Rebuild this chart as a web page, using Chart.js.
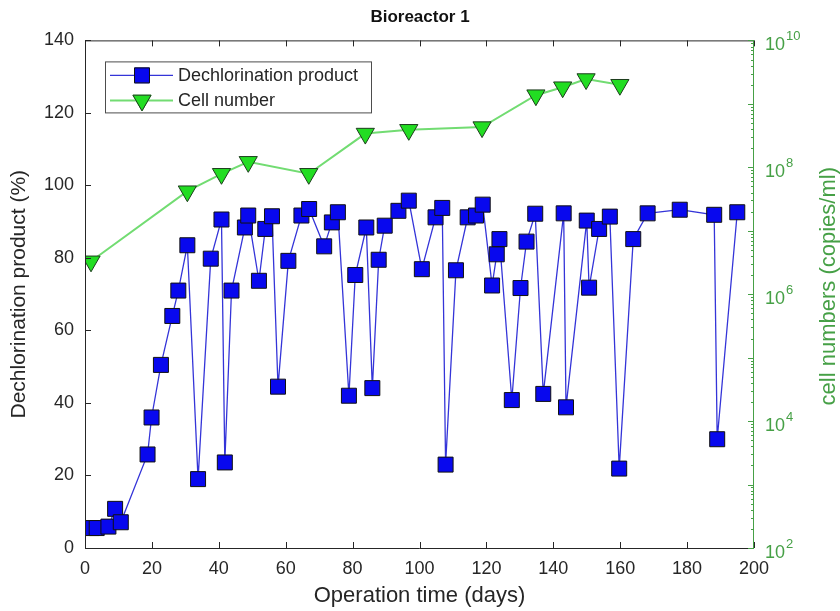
<!DOCTYPE html>
<html>
<head>
<meta charset="utf-8">
<script src="https://cdn.jsdelivr.net/npm/chart.js@4/dist/chart.umd.min.js"></script>
<style>
  html, body { margin: 0; padding: 0; background: #fff; }
  #wrap { width: 840px; height: 611px; }
</style>
</head>
<body>
<div id="wrap"><canvas id="chart"></canvas></div>
<script>
// dechlorination product (%) vs operation time (days)
const dechlorDays = [2.0, 3.5, 7.0, 9.0, 10.7, 18.7, 19.9, 22.7, 26.1, 27.9, 30.6, 33.8, 37.6, 40.8, 41.8, 43.8,
  47.8, 48.8, 52.0, 53.9, 55.9, 57.7, 60.8, 64.7, 67.0, 71.5, 73.8, 75.6, 78.9, 80.8, 84.1, 85.9, 87.8, 89.6,
  93.7, 96.8, 100.7, 104.8, 106.8, 107.8, 110.9, 114.4, 116.9, 118.9, 121.7, 123.1, 123.9, 127.6, 130.2, 132.0,
  134.6, 137.0, 143.1, 143.8, 150.0, 150.7, 153.7, 156.9, 159.7, 163.9, 168.2, 177.8, 188.1, 189.0, 195.0];
const dechlorPct = [5.5, 5.5, 5.9, 10.8, 7.1, 25.8, 36, 50.5, 64, 71, 83.5, 19, 79.8, 90.6, 23.6, 71,
  88.4, 91.7, 73.7, 88, 91.5, 44.5, 79.2, 91.7, 93.5, 83.2, 89.8, 92.6, 42, 75.3, 88.4, 44.1, 79.5, 88.9,
  93, 95.8, 76.9, 91.2, 93.8, 23, 76.6, 91.2, 91.7, 94.7, 72.4, 81, 85.2, 40.8, 71.7, 84.5,
  92.2, 42.5, 92.3, 38.8, 90.3, 71.8, 88, 91.4, 21.9, 85.2, 92.3, 93.3, 91.9, 30, 92.6];

// cell numbers (copies/ml)
const cellDays = [1.8, 30.6, 40.8, 48.8, 66.9, 83.8, 96.8, 118.7, 134.8, 142.8, 149.8, 159.9];
const cellCounts = [3.3e6, 4.2e7, 7.9e7, 1.22e8, 7.9e7, 3.4e8, 3.9e8, 4.3e8, 1.37e9, 1.83e9, 2.46e9, 2.0e9];

const cellTickPowers = [2, 4, 6, 8, 10];
const seriesNames = ['Dechlorination product', 'Cell number'];

const FONT = 'Liberation Sans, Arial, Helvetica, sans-serif';
const AXIS = '#262626';
const GREEN = '#46a046';

const matlabAxes = {
  id: 'matlabAxes',
  afterDraw(chart) {
    const { ctx, chartArea: a, scales } = chart;
    ctx.save();
    ctx.lineWidth = 1;

    // box (left, top, bottom dark; right green)
    ctx.strokeStyle = AXIS;
    ctx.beginPath();
    ctx.moveTo(a.right, a.top + 0.5);
    ctx.lineTo(a.left + 0.5, a.top + 0.5);
    ctx.lineTo(a.left + 0.5, a.bottom + 0.5);
    ctx.lineTo(a.right, a.bottom + 0.5);
    ctx.stroke();

    // inward ticks
    ctx.beginPath();
    scales.x.ticks.forEach(t => {
      const px = Math.round(scales.x.getPixelForValue(t.value)) + 0.5;
      ctx.moveTo(px, a.bottom); ctx.lineTo(px, a.bottom - 6);
      ctx.moveTo(px, a.top); ctx.lineTo(px, a.top + 6);
    });
    scales.y.ticks.forEach(t => {
      const py = Math.round(scales.y.getPixelForValue(t.value)) + 0.5;
      ctx.moveTo(a.left, py); ctx.lineTo(a.left + 6, py);
    });
    ctx.stroke();

    // right log axis
    const y2 = scales.y2;
    ctx.strokeStyle = GREEN;
    ctx.beginPath();
    ctx.moveTo(a.right - 0.5, a.top);
    ctx.lineTo(a.right - 0.5, a.bottom + 1);
    for (let p = 2; p <= 10; p++) {
      const py = Math.round(y2.getPixelForValue(Math.pow(10, p))) + 0.5;
      ctx.moveTo(a.right, py); ctx.lineTo(a.right - 6, py);
      if (p < 10) {
        for (let k = 2; k <= 9; k++) {
          const my = Math.round(y2.getPixelForValue(k * Math.pow(10, p))) + 0.5;
          ctx.moveTo(a.right, my); ctx.lineTo(a.right - 3, my);
        }
      }
    }
    ctx.stroke();

    // right tick labels 10^n
    ctx.fillStyle = GREEN;
    ctx.textAlign = 'left';
    ctx.textBaseline = 'middle';
    cellTickPowers.forEach(p => {
      const py = y2.getPixelForValue(Math.pow(10, p));
      ctx.font = '18px ' + FONT;
      const x0 = a.right + 11;
      ctx.fillText('10', x0, py + 5);
      const w = ctx.measureText('10').width;
      ctx.font = '13px ' + FONT;
      ctx.fillText(String(p), x0 + w + 1, py - 4);
    });

    // right axis title
    ctx.save();
    ctx.font = '22px ' + FONT;
    ctx.textAlign = 'center';
    ctx.translate(829, (a.top + a.bottom) / 2 - 8);
    ctx.rotate(-Math.PI / 2);
    ctx.fillText('cell numbers (copies/ml)', 0, 0);
    ctx.restore();

    // legend
    const lx = a.left + 20, ly = a.top + 21, lw = 266, lh = 51;
    ctx.fillStyle = '#fff';
    ctx.fillRect(lx, ly, lw, lh);
    ctx.strokeStyle = '#4d4d4d';
    ctx.strokeRect(lx + 0.5, ly + 0.5, lw, lh);
    const rows = [
      { y: ly + 14, ds: chart.data.datasets[0] },
      { y: ly + 39, ds: chart.data.datasets[1] }
    ];
    rows.forEach(r => {
      ctx.strokeStyle = r.ds.borderColor;
      ctx.lineWidth = r.ds.borderWidth;
      ctx.beginPath();
      ctx.moveTo(lx + 5, r.y); ctx.lineTo(lx + 68, r.y);
      ctx.stroke();
      ctx.lineWidth = 1;
      Chart.helpers.drawPoint(ctx, {
        pointStyle: r.ds.pointStyle, rotation: r.ds.pointRotation || 0,
        radius: r.ds.pointRadius, borderWidth: 1
      }, lx + 37, r.y);
      ctx.fillStyle = r.ds.pointBackgroundColor;
      ctx.strokeStyle = r.ds.pointBorderColor;
      ctx.fill();
      ctx.stroke();
      ctx.fillStyle = AXIS;
      ctx.font = '18px ' + FONT;
      ctx.textAlign = 'left';
      ctx.textBaseline = 'middle';
      ctx.fillText(r.ds.label, lx + 73, r.y + 1);
    });
    ctx.restore();
  }
};

new Chart(document.getElementById('chart'), {
  type: 'line',
  data: {
    datasets: [
      {
        label: seriesNames[0],
        data: dechlorDays.map((d, i) => ({ x: d, y: dechlorPct[i] })),
        yAxisID: 'y',
        borderColor: '#3434d8',
        borderWidth: 1.3,
        pointStyle: 'rect',
        pointRadius: 10.6,
        pointBackgroundColor: '#0808ee',
        pointBorderColor: '#111',
        pointBorderWidth: 1,
        tension: 0
      },
      {
        label: seriesNames[1],
        data: cellDays.map((d, i) => ({ x: d, y: cellCounts[i] })),
        yAxisID: 'y2',
        borderColor: '#72dc72',
        borderWidth: 2,
        pointStyle: 'triangle',
        pointRotation: 180,
        pointRadius: 10.5,
        pointBackgroundColor: '#22dd22',
        pointBorderColor: '#1d3d1d',
        pointBorderWidth: 1,
        tension: 0
      }
    ]
  },
  options: {
    responsive: true,
    maintainAspectRatio: false,
    animation: false,
    layout: { padding: 0 },
    plugins: {
      legend: { display: false },
      tooltip: { enabled: false },
      title: {
        display: true,
        text: 'Bioreactor 1',
        color: '#111',
        font: { family: FONT, size: 17, weight: 'bold' },
        padding: { top: 7, bottom: 13 }
      }
    },
    scales: {
      x: {
        type: 'linear',
        min: 0, max: 200,
        grid: { display: false, drawTicks: false },
        border: { display: false },
        ticks: { stepSize: 20, padding: 10, color: AXIS, font: { family: FONT, size: 18 } },
        title: { display: true, text: 'Operation time (days)', color: AXIS,
          font: { family: FONT, size: 22 }, padding: { top: 0, bottom: 2 } },
        afterFit: s => { s.height = 63; }
      },
      y: {
        position: 'left',
        min: 0, max: 140,
        grid: { display: false, drawTicks: false },
        border: { display: false },
        ticks: { stepSize: 20, padding: 11, color: AXIS, font: { family: FONT, size: 18 } },
        title: { display: true, text: 'Dechlorination product (%)', color: AXIS,
          font: { family: FONT, size: 21 }, padding: { top: 7, bottom: 0 } },
        afterFit: s => { s.width = 85; }
      },
      y2: {
        type: 'logarithmic',
        position: 'right',
        min: 1e2, max: 1e10,
        grid: { display: false, drawTicks: false },
        border: { display: false },
        ticks: { display: false },
        title: { display: false },
        afterFit: s => { s.width = 86; }
      }
    }
  },
  plugins: [matlabAxes]
});
</script>
</body>
</html>
